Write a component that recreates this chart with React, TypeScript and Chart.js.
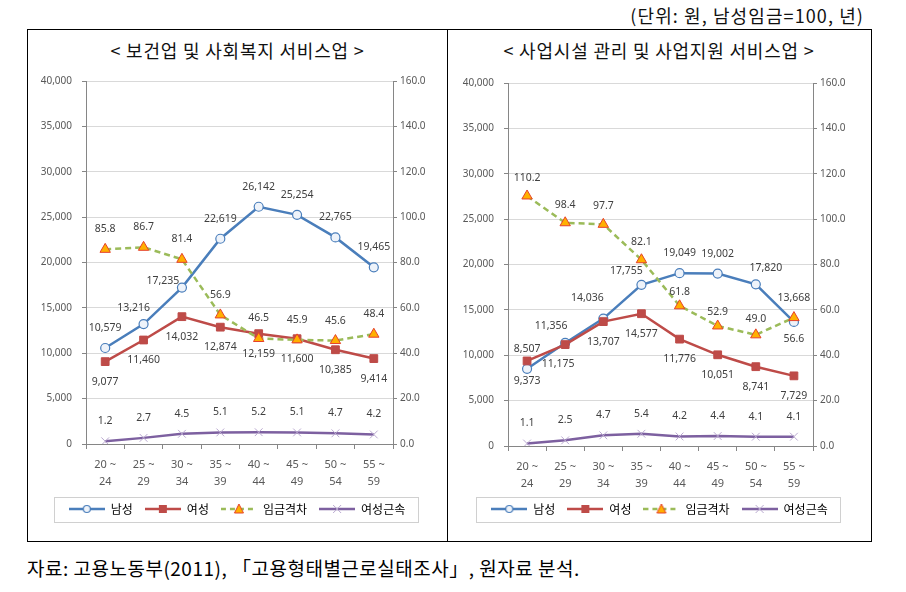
import React, { useEffect, useRef } from "react";
import { Chart, registerables } from "chart.js";

Chart.register(...registerables);

// ---------- data ----------
const AGE_LABELS = [
  ["20 ~", "24"],
  ["25 ~", "29"],
  ["30 ~", "34"],
  ["35 ~", "39"],
  ["40 ~", "44"],
  ["45 ~", "49"],
  ["50 ~", "54"],
  ["55 ~", "59"],
];
const SERIES_NAMES = ["남성", "여성", "임금격차", "여성근속"];

const HEALTH_TITLE = "< 보건업 및 사회복지 서비스업 >";
const HEALTH_MALE = [10579, 13216, 17235, 22619, 26142, 25254, 22765, 19465];
const HEALTH_FEMALE = [9077, 11460, 14032, 12874, 12159, 11600, 10385, 9414];
const HEALTH_GAP = [85.8, 86.7, 81.4, 56.9, 46.5, 45.9, 45.6, 48.4];
const HEALTH_TENURE = [1.2, 2.7, 4.5, 5.1, 5.2, 5.1, 4.7, 4.2];

const BIZ_TITLE = "< 사업시설 관리 및 사업지원 서비스업 >";
const BIZ_MALE = [8507, 11356, 14036, 17755, 19049, 19002, 17820, 13668];
const BIZ_FEMALE = [9373, 11175, 13707, 14577, 11776, 10051, 8741, 7729];
const BIZ_GAP = [110.2, 98.4, 97.7, 82.1, 61.8, 52.9, 49.0, 56.6];
const BIZ_TENURE = [1.1, 2.5, 4.7, 5.4, 4.2, 4.4, 4.1, 4.1];

const WAGE_MAX = 40000;
const WAGE_STEP = 5000;
const RATIO_MAX = 160;
const RATIO_STEP = 20;

const UNIT_TEXT = "(단위: 원, 남성임금=100, 년)";
const SOURCE_TEXT = "자료: 고용노동부(2011), 「고용형태별근로실태조사」, 원자료 분석.";

// ---------- styles ----------
const C_MALE = "#4A7EBB";
const C_FEMALE = "#BE4B48";
const C_GAP = "#9BBB59";
const C_TENURE = "#7D60A0";
const KR_FONT = "'Noto Sans CJK KR', 'Noto Sans', sans-serif";
const NUM_FONT = "'Noto Sans', 'DejaVu Sans', sans-serif";

function makeSwatch(kind: number): HTMLCanvasElement {
  const c = document.createElement("canvas");
  c.width = 36;
  c.height = 12;
  const g = c.getContext("2d")!;
  g.lineWidth = 2.5;
  const cy = 6;
  if (kind === 0) {
    g.strokeStyle = C_MALE;
    g.beginPath(); g.moveTo(0, cy); g.lineTo(36, cy); g.stroke();
    g.fillStyle = "#EEF3FA"; g.lineWidth = 1.2;
    g.beginPath(); g.arc(18, cy, 3.5, 0, Math.PI * 2); g.fill(); g.stroke();
  } else if (kind === 1) {
    g.strokeStyle = C_FEMALE;
    g.beginPath(); g.moveTo(0, cy); g.lineTo(36, cy); g.stroke();
    g.fillStyle = C_FEMALE; g.fillRect(14, cy - 4, 8, 8);
  } else if (kind === 2) {
    g.strokeStyle = C_GAP; g.setLineDash([5, 4]);
    g.beginPath(); g.moveTo(0, cy); g.lineTo(36, cy); g.stroke();
    g.setLineDash([]);
    g.fillStyle = "#FFB000"; g.strokeStyle = "#E5412B"; g.lineWidth = 1;
    g.beginPath(); g.moveTo(18, cy - 5); g.lineTo(22.5, cy + 4); g.lineTo(13.5, cy + 4); g.closePath(); g.fill(); g.stroke();
  } else {
    g.strokeStyle = C_TENURE;
    g.beginPath(); g.moveTo(0, cy); g.lineTo(36, cy); g.stroke();
    g.strokeStyle = "#B9A8CF"; g.lineWidth = 1;
    g.beginPath(); g.moveTo(14, cy - 4); g.lineTo(22, cy + 4); g.moveTo(22, cy - 4); g.lineTo(14, cy + 4); g.stroke();
  }
  return c;
}

const pointLabelPlugin = {
  id: "pointLabels",
  afterDatasetsDraw(chart: any, _args: any, opts: any) {
    const ctx = chart.ctx;
    ctx.save();
    ctx.font = `10.5px ${NUM_FONT}`;
    ctx.fillStyle = "#404040";
    ctx.textAlign = "center";
    ctx.textBaseline = "middle";
    chart.data.datasets.forEach((ds: any, di: number) => {
      const meta = chart.getDatasetMeta(di);
      const sh = opts.shifts[di];
      meta.data.forEach((pt: any, i: number) => {
        const v = ds.data[i];
        const text = ds.yAxisID === "yW" ? v.toLocaleString("en-US") : v.toFixed(1);
        const o = (sh.special && sh.special[i]) || [0, sh.dy];
        ctx.fillText(text, pt.x + o[0], pt.y + o[1]);
      });
    });
    ctx.restore();
  },
};

const legendFramePlugin = {
  id: "legendFrame",
  afterDraw(chart: any) {
    const boxes = chart.legend && chart.legend.legendHitBoxes;
    if (!boxes || !boxes.length) return;
    const left = Math.min(...boxes.map((b: any) => b.left));
    const right = Math.max(...boxes.map((b: any) => b.left + b.width));
    const cy = boxes[0].top + boxes[0].height / 2;
    const ctx = chart.ctx;
    ctx.save();
    ctx.strokeStyle = "#D0D0D0";
    ctx.lineWidth = 1;
    ctx.strokeRect(Math.round(left - 15) + 0.5, Math.round(cy - 12) + 0.5, Math.round(right - left + 28), 25);
    ctx.restore();
  },
};

type PanelProps = {
  male: number[];
  female: number[];
  gap: number[];
  tenure: number[];
  shifts: any[];
  left: number;
  width: number;
  leftW: number;
  rightW: number;
  padTop: number;
  xHeight: number;
};

function Panel(p: PanelProps) {
  const ref = useRef<HTMLCanvasElement>(null);
  useEffect(() => {
    const swatches = [0, 1, 2, 3].map(makeSwatch);
    const chart = new Chart(ref.current!, {
      type: "line",
      data: {
        labels: AGE_LABELS as any,
        datasets: [
          {
            label: SERIES_NAMES[0], data: p.male, yAxisID: "yW", order: 4,
            borderColor: C_MALE, borderWidth: 2.5, pointStyle: "circle", pointRadius: 4.5,
            pointBackgroundColor: "#EEF3FA", pointBorderColor: C_MALE, pointBorderWidth: 1.2,
          },
          {
            label: SERIES_NAMES[1], data: p.female, yAxisID: "yW", order: 3,
            borderColor: C_FEMALE, borderWidth: 2.5, pointStyle: "rect", pointRadius: 5.5,
            pointBackgroundColor: C_FEMALE, pointBorderColor: C_FEMALE, pointBorderWidth: 1,
          },
          {
            label: SERIES_NAMES[2], data: p.gap, yAxisID: "yR", order: 2,
            borderColor: C_GAP, borderWidth: 2.5, borderDash: [6, 4], pointStyle: "triangle", pointRadius: 6,
            pointBackgroundColor: "#FFB000", pointBorderColor: "#E5412B", pointBorderWidth: 1,
          },
          {
            label: SERIES_NAMES[3], data: p.tenure, yAxisID: "yR", order: 1,
            borderColor: C_TENURE, borderWidth: 2.5, pointStyle: "crossRot", pointRadius: 5.5,
            pointBackgroundColor: "#B9A8CF", pointBorderColor: "#B9A8CF", pointBorderWidth: 1,
          },
        ] as any,
      },
      options: {
        animation: false,
        responsive: false,
        maintainAspectRatio: false,
        layout: { padding: { top: p.padTop, bottom: 15, left: 0, right: 0 } },
        scales: {
          x: {
            offset: true,
            grid: { drawOnChartArea: false, drawTicks: true, tickLength: 5, offset: true, tickColor: "#868686" },
            border: { display: true, color: "#868686", width: 1 },
            ticks: { color: "#595959", font: { family: NUM_FONT, size: 11, lineHeight: 1.5 }, padding: 8, maxRotation: 0, autoSkip: false },
            afterFit(s: any) { s.height = p.xHeight; },
          },
          yW: {
            position: "left", min: 0, max: WAGE_MAX,
            grid: { color: "#D9D9D9", tickColor: "#868686", tickLength: 4 },
            border: { display: true, color: "#868686", width: 1 },
            ticks: {
              stepSize: WAGE_STEP, color: "#595959", padding: 10,
              font: { family: NUM_FONT, size: 10 },
              callback: (v: any) => Number(v).toLocaleString("en-US"),
            },
            afterFit(s: any) { s.width = p.leftW; },
          },
          yR: {
            position: "right", min: 0, max: RATIO_MAX,
            grid: { drawOnChartArea: false, tickColor: "#868686", tickLength: 4 },
            border: { display: true, color: "#868686", width: 1 },
            ticks: {
              stepSize: RATIO_STEP, color: "#595959", padding: 3,
              font: { family: NUM_FONT, size: 10 },
              callback: (v: any) => Number(v).toFixed(1),
            },
            afterFit(s: any) { s.width = p.rightW; },
          },
        },
        plugins: {
          tooltip: { enabled: false },
          legend: {
            position: "bottom",
            labels: {
              usePointStyle: true,
              pointStyleWidth: 36,
              padding: 12,
              color: "#404040",
              font: { family: KR_FONT, size: 12 },
              generateLabels: () =>
                SERIES_NAMES.map((name, i) => ({
                  text: name, pointStyle: swatches[i], fillStyle: "transparent",
                  strokeStyle: "transparent", lineWidth: 0, hidden: false, datasetIndex: i,
                })),
            },
          },
          pointLabels: { shifts: p.shifts },
        } as any,
      },
      plugins: [pointLabelPlugin, legendFramePlugin],
    });
    return () => chart.destroy();
  }, []);
  return (
    <canvas
      ref={ref}
      width={p.width}
      height={480}
      style={{ position: "absolute", left: p.left, top: 60, width: p.width, height: 480 }}
    />
  );
}

const HEALTH_SHIFTS = [
  { dy: -20, special: { 1: [-10, -16], 2: [-19, -7] } },
  { dy: 20 },
  { dy: -20 },
  { dy: -20 },
];
const BIZ_SHIFTS = [
  { dy: -20, special: { 1: [-14, -17], 2: [-16, -21], 3: [-15, -14], 6: [10, -16], 7: [0, -24] } },
  { dy: 20, special: { 1: [-7, 19] } },
  { dy: -18, special: { 4: [0, -14], 5: [0, -14], 6: [0, -16], 7: [0, 21] } },
  { dy: -20 },
];

export default function App() {
  const titleStyle: React.CSSProperties = {
    position: "absolute", top: 38, height: 24, lineHeight: "24px", textAlign: "center",
    fontFamily: KR_FONT, fontSize: 18, color: "#111", letterSpacing: "0.8px", whiteSpace: "nowrap",
  };
  return (
    <div style={{ position: "fixed", left: 0, top: 0, width: 906, height: 592, background: "#fff", overflow: "hidden" }}>
      <div style={{ position: "absolute", left: 0, top: 3, width: 864, textAlign: "right", fontFamily: KR_FONT, fontSize: 18, lineHeight: "24px", color: "#111", letterSpacing: "1.1px", whiteSpace: "nowrap" }}>
        {UNIT_TEXT}
      </div>
      <div style={{ position: "absolute", left: 27, top: 29, width: 843, height: 511, border: "1px solid #000" }} />
      <div style={{ position: "absolute", left: 447, top: 29, width: 1, height: 512, background: "#000" }} />
      <div style={{ ...titleStyle, left: 28, width: 419 }}>{HEALTH_TITLE}</div>
      <div style={{ ...titleStyle, left: 448, width: 422 }}>{BIZ_TITLE}</div>
      <Panel male={HEALTH_MALE} female={HEALTH_FEMALE} gap={HEALTH_GAP} tenure={HEALTH_TENURE}
        shifts={HEALTH_SHIFTS} left={28} width={418} leftW={58} rightW={53} padTop={21} xHeight={47} />
      <Panel male={BIZ_MALE} female={BIZ_FEMALE} gap={BIZ_GAP} tenure={BIZ_TENURE}
        shifts={BIZ_SHIFTS} left={449} width={421} leftW={59} rightW={57} padTop={23} xHeight={45} />
      <div style={{ position: "absolute", left: 27, top: 555, lineHeight: "26px", fontFamily: KR_FONT, fontSize: 19, color: "#000", whiteSpace: "nowrap", letterSpacing: "0.5px" }}>
        {SOURCE_TEXT}
      </div>
    </div>
  );
}
